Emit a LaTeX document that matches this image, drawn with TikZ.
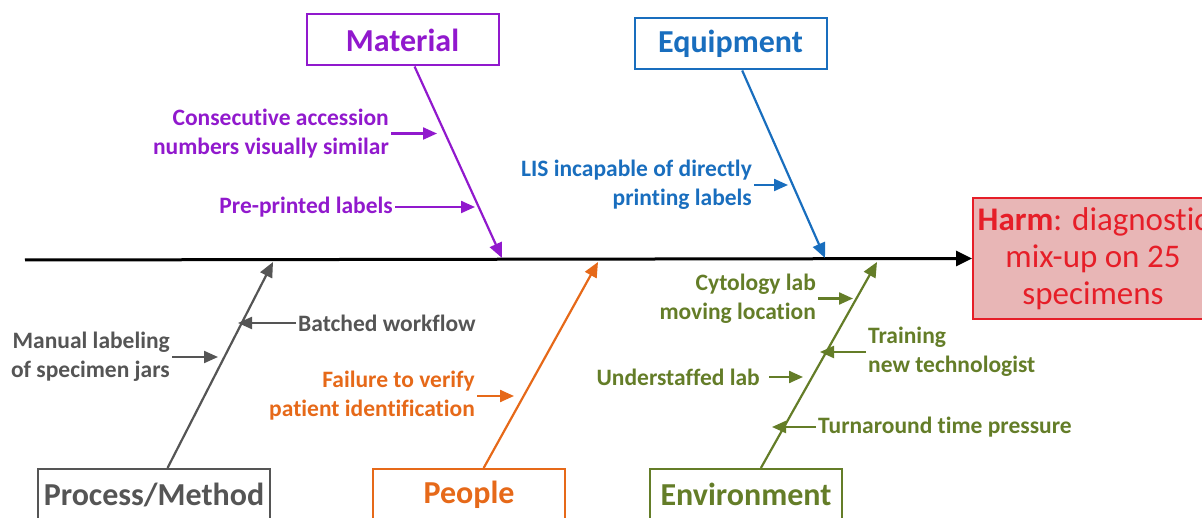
\documentclass[tikz,border=0pt]{standalone}
\usepackage{fontspec}
\setmainfont[RawFeature={-liga;-clig;-dlig}]{Carlito}
\usetikzlibrary{arrows.meta}

\definecolor{matcol}{RGB}{145,25,205}
\definecolor{eqcol}{RGB}{25,110,190}
\definecolor{pmcol}{RGB}{85,85,85}
\definecolor{pplcol}{RGB}{230,105,25}
\definecolor{envcol}{RGB}{100,125,40}
\definecolor{harmred}{RGB}{230,30,40}
\definecolor{harmfill}{RGB}{232,182,182}

\tikzset{
  catbox/.style={draw=#1, text=#1, line width=2pt, minimum width=192pt,
    minimum height=51pt, inner xsep=6pt, font=\fontsize{32}{38}\selectfont\bfseries},
  bone/.style={draw=#1, line width=2.2pt, -{Triangle[length=15pt,width=13pt]}},
  causetxt/.style={text=#1, inner sep=2pt, font=\fontsize{23.5}{29}\selectfont\bfseries},
  causearr/.style={draw=#1, line width=2.2pt, -{Triangle[length=14pt,width=12pt]}},
  harmbox/.style={draw=harmred, fill=harmfill, text=harmred, line width=2pt,
    minimum width=240pt, minimum height=121pt, align=center,
    font=\fontsize{33}{37}\selectfont},
  spine/.style={draw=black, line width=3pt, -{Triangle[length=16pt,width=15pt]}}
}

\begin{document}
\begin{tikzpicture}[x=1pt,y=-1pt]
  \useasboundingbox (0,0) rectangle (1202,518);

  % effect and spine
  \node[harmbox, anchor=west] (harm) at (972,258.5) {\textbf{Harm}: diagnostic\\mix-up on 25\\specimens};
  \coordinate (tail) at (25,260);
  \draw[spine] (tail) -- (harm.west);

  % category boxes
  \node[catbox=matcol] (mat) at (402.5,40) {Material};
  \node[catbox=eqcol] (eq) at (730.5,44) {Equipment};
  \node[catbox=pmcol] (pm) at (154,494.5) {Process/Method};
  \node[catbox=pplcol] (ppl) at (469,494.5) {People};
  \node[catbox=envcol] (env) at (746,494.5) {Environment};

  % where the bones meet the spine
  \coordinate (mtip) at (502,258);
  \coordinate (etip) at (825,258);
  \coordinate (ptip) at (273,262);
  \coordinate (ppltip) at (598,262);
  \coordinate (envtip) at (877,262);

  \draw[bone=matcol] (mat) -- (mtip);
  \draw[bone=eqcol] (eq) -- (etip);
  \draw[bone=pmcol] (pm) -- (ptip);
  \draw[bone=pplcol] (ppl) -- (ppltip);
  \draw[bone=envcol] (env) -- (envtip);

  % Material causes
  \node[causetxt=matcol, anchor=east, align=right] (mat1) at (391,133.5) {Consecutive accession\\numbers visually similar};
  \coordinate (mat1end) at (437,133.5);
  \draw[causearr=matcol] (mat1) -- (mat1end);
  \node[causetxt=matcol, anchor=east] (mat2) at (395,207) {Pre-printed labels};
  \coordinate (mat2end) at (475,207);
  \draw[causearr=matcol] (mat2) -- (mat2end);

  % Equipment causes
  \node[causetxt=eqcol, anchor=east, align=right] (eq1) at (754,185) {LIS incapable of directly\\printing labels};
  \coordinate (eq1end) at (788,185);
  \draw[causearr=eqcol] (eq1) -- (eq1end);

  % Process/Method causes
  \node[causetxt=pmcol, anchor=west] (pm1) at (296,323) {Batched workflow};
  \coordinate (pm1end) at (238,323);
  \draw[causearr=pmcol] (pm1) -- (pm1end);
  \node[causetxt=pmcol, anchor=east, align=right] (pm2) at (172,357) {Manual labeling\\of specimen jars};
  \coordinate (pm2end) at (218,357);
  \draw[causearr=pmcol] (pm2) -- (pm2end);

  % People causes
  \node[causetxt=pplcol, anchor=east, align=right] (ppl1) at (477,396) {Failure to verify\\patient identification};
  \coordinate (ppl1end) at (514,396);
  \draw[causearr=pplcol] (ppl1) -- (ppl1end);

  % Environment causes
  \node[causetxt=envcol, anchor=east, align=right] (env1) at (818,298.5) {Cytology lab\\moving location};
  \coordinate (env1end) at (853,298.5);
  \draw[causearr=envcol] (env1) -- (env1end);
  \node[causetxt=envcol, anchor=west, align=left] (env2) at (866,352) {Training\\new technologist};
  \coordinate (env2end) at (820,352);
  \draw[causearr=envcol] (env2) -- (env2end);
  \node[causetxt=envcol, anchor=east, inner xsep=9pt] (env3) at (769,377) {Understaffed lab};
  \coordinate (env3end) at (803,377);
  \draw[causearr=envcol] (env3) -- (env3end);
  \node[causetxt=envcol, anchor=west] (env4) at (816,427) {Turnaround time pressure};
  \coordinate (env4end) at (772,427);
  \draw[causearr=envcol] (env4) -- (env4end);
\end{tikzpicture}
\end{document}
